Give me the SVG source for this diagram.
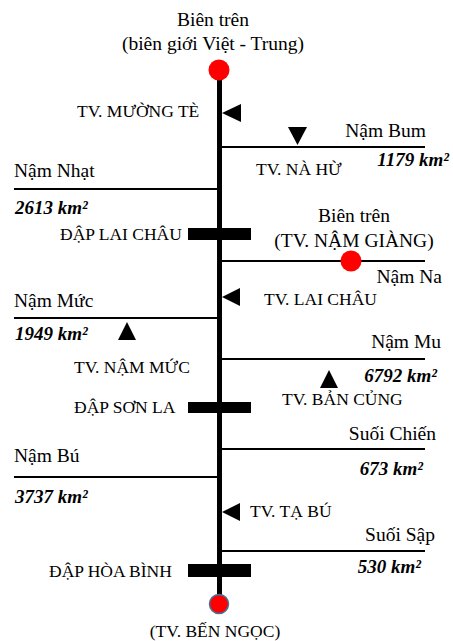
<svg xmlns="http://www.w3.org/2000/svg" width="453" height="641" viewBox="0 0 453 641">
<style>
text{font-family:"Liberation Serif","Times New Roman",serif;fill:#000}
.big{font-size:19.5px}
.st{font-size:17.5px}
.km{font-size:19px;font-style:italic;font-weight:bold}
.r{text-anchor:end}
.c{text-anchor:middle}
.trib{stroke:#000;stroke-width:2;fill:none}
.dam{fill:#000}
.tri{fill:#000}
</style>
<rect width="453" height="641" fill="#fff"/>
<g id="connectors">
<line x1="219.5" y1="72" x2="219.5" y2="600" stroke="#000" stroke-width="5"/>
<line class="trib" x1="221" y1="147" x2="425" y2="147"/>
<line class="trib" x1="14" y1="189" x2="218" y2="189"/>
<line class="trib" x1="221" y1="261" x2="425" y2="261"/>
<line class="trib" x1="14" y1="318" x2="218" y2="318"/>
<line class="trib" x1="221" y1="359" x2="425" y2="359"/>
<line class="trib" x1="221" y1="449" x2="425" y2="449"/>
<line class="trib" x1="14" y1="477" x2="218" y2="477"/>
<line class="trib" x1="221" y1="551" x2="425" y2="551"/>
</g>
<g id="top-boundary">
<circle cx="219" cy="70" r="10.5" fill="#f00"/>
<text class="big c" x="213" y="26">Biên trên</text>
<text class="big c" x="213" y="50">(biên giới Việt - Trung)</text>
</g>
<g id="tv-muong-te">
<polygon class="tri" points="222,113 241,104 241,122"/>
<text class="st" x="77" y="117">TV. MƯỜNG TÈ</text>
</g>
<g id="nam-bum">
<text class="big r" x="426" y="137">Nậm Bum</text>
<text class="km r" x="449" y="166">1179 km²</text>
</g>
<g id="tv-na-hu">
<polygon class="tri" points="288,127 307,127 297.5,145"/>
<text class="st" x="256" y="175">TV. NÀ HỪ</text>
</g>
<g id="nam-nhat">
<text class="big" x="14" y="177">Nậm Nhạt</text>
<text class="km" x="15" y="214">2613 km²</text>
</g>
<g id="dap-lai-chau">
<rect class="dam" x="188" y="228" width="63" height="12"/>
<text class="st" x="60" y="240">ĐẬP LAI CHÂU</text>
</g>
<g id="nam-giang">
<text class="big c" x="354" y="222">Biên trên</text>
<text class="big c" x="354" y="247">(TV. NẬM GIÀNG)</text>
<circle cx="351" cy="261" r="10.5" fill="#f00"/>
</g>
<g id="nam-na">
<text class="big r" x="442" y="283">Nậm Na</text>
</g>
<g id="tv-lai-chau">
<polygon class="tri" points="222,297 240,288 240,306"/>
<text class="st" x="264" y="305">TV. LAI CHÂU</text>
</g>
<g id="nam-muc">
<text class="big" x="14" y="307">Nậm Mức</text>
<text class="km" x="15" y="340">1949 km²</text>
</g>
<g id="tv-nam-muc">
<polygon class="tri" points="127,322 136,340 118,340"/>
<text class="st" x="74" y="373">TV. NẬM MỨC</text>
</g>
<g id="nam-mu">
<text class="big r" x="441" y="348">Nậm Mu</text>
<text class="km r" x="437" y="382">6792 km²</text>
</g>
<g id="tv-ban-cung">
<polygon class="tri" points="329,370 338,388 320,388"/>
<text class="st" x="282" y="405">TV. BẢN CỦNG</text>
</g>
<g id="dap-son-la">
<rect class="dam" x="188" y="402" width="63" height="11"/>
<text class="st" x="74" y="413">ĐẬP SƠN LA</text>
</g>
<g id="suoi-chien">
<text class="big r" x="436" y="440">Suối Chiến</text>
<text class="km r" x="423" y="475">673 km²</text>
</g>
<g id="nam-bu">
<text class="big" x="14" y="462">Nậm Bú</text>
<text class="km" x="15" y="503">3737 km²</text>
</g>
<g id="tv-ta-bu">
<polygon class="tri" points="222,512 240,503 240,521"/>
<text class="st" x="250" y="517">TV. TẠ BÚ</text>
</g>
<g id="suoi-sap">
<text class="big r" x="435" y="541">Suối Sập</text>
<text class="km r" x="421" y="573">530 km²</text>
</g>
<g id="dap-hoa-binh">
<rect class="dam" x="188" y="564" width="63" height="13"/>
<text class="st" x="49" y="577">ĐẬP HÒA BÌNH</text>
</g>
<g id="tv-ben-ngoc">
<circle cx="219" cy="604" r="9.5" fill="#f00" stroke="#41719c" stroke-width="1.5"/>
<text class="st c" x="215" y="637">(TV. BẾN NGỌC)</text>
</g>
</svg>
